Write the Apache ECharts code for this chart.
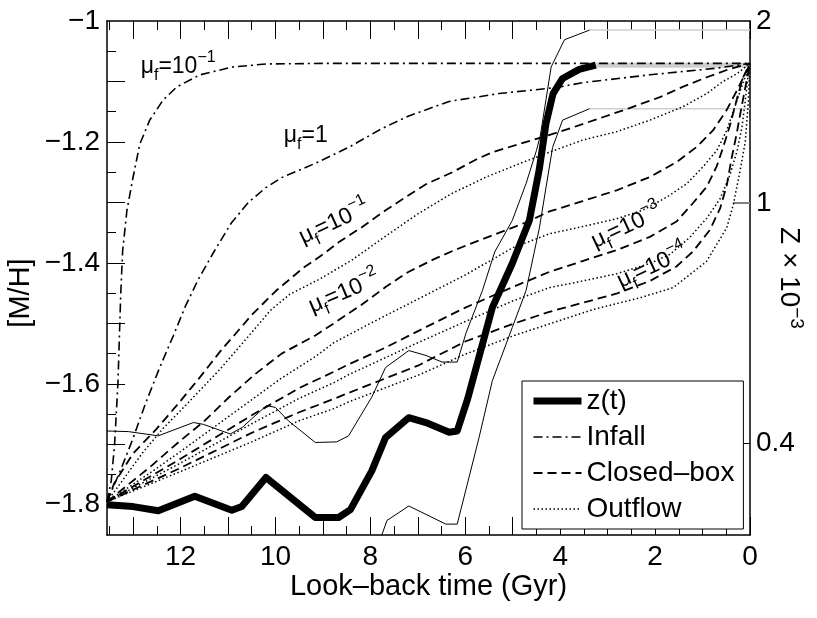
<!DOCTYPE html>
<html>
<head>
<meta charset="utf-8">
<title>Metallicity vs look-back time</title>
<script src="https://cdn.jsdelivr.net/npm/echarts@6/dist/echarts.min.js"></script>
<style>
  html, body { margin: 0; padding: 0; background: #fff; }
  #chart { width: 817px; height: 618px; }
</style>
</head>
<body>
<div id="chart"></div>
<script>
// [look-back time (Gyr), [M/H]] pairs
var zMean = [[13.55,-1.800],[13.0,-1.803],[12.47,-1.810],[11.70,-1.786],[10.92,-1.809],[10.71,-1.803],[10.2,-1.755],[9.16,-1.821],[8.67,-1.821],[8.42,-1.808],[7.97,-1.744],[7.68,-1.689],[7.19,-1.656],[6.83,-1.664],[6.34,-1.680],[6.17,-1.678],[5.95,-1.625],[5.75,-1.567],[5.43,-1.474],[5.01,-1.401],[4.65,-1.33],[4.44,-1.245],[4.3,-1.17],[4.15,-1.12],[3.95,-1.095],[3.6,-1.08],[3.25,-1.073]];
var zMeanTail = [[3.25,-1.073],[0,-1.073]];
var zUpper = [[13.55,-1.678],[13.1,-1.679],[12.47,-1.686],[11.73,-1.664],[11.52,-1.667],[10.95,-1.683],[10.7,-1.672],[10.19,-1.636],[10.0,-1.639],[9.73,-1.661],[9.16,-1.697],[8.71,-1.696],[8.46,-1.686],[7.97,-1.622],[7.68,-1.573],[7.19,-1.545],[6.83,-1.553],[6.49,-1.564],[6.17,-1.564],[5.98,-1.515],[5.64,-1.446],[5.38,-1.382],[5.01,-1.33],[4.72,-1.269],[4.5,-1.214],[4.42,-1.19],[4.19,-1.076],[3.91,-1.031],[3.38,-1.015]];
var zUpperTail = [[3.38,-1.015],[0,-1.015]];
var zLower = [[7.85,-1.87],[7.65,-1.826],[7.19,-1.802],[6.41,-1.832],[6.17,-1.832],[5.71,-1.689],[5.43,-1.595],[5.01,-1.507],[4.72,-1.446],[4.44,-1.343],[4.16,-1.209],[3.95,-1.164],[3.38,-1.145]];
var zLowerTail = [[3.38,-1.145],[0,-1.145]];

var infallMu01 = [[13.55,-1.795],[13.46,-1.76],[13.39,-1.70],[13.32,-1.60],[13.26,-1.45],[13.22,-1.38],[13.13,-1.313],[13.0,-1.258],[12.86,-1.204],[12.65,-1.164],[12.37,-1.131],[12.08,-1.109],[11.59,-1.089],[10.9,-1.076],[10.18,-1.071],[8.8,-1.07],[0,-1.07]];
var infallMu1 = [[13.55,-1.795],[13.25,-1.74],[13.0,-1.69],[12.75,-1.635],[12.45,-1.575],[12.15,-1.52],[11.9,-1.472],[11.63,-1.428],[11.3,-1.382],[10.93,-1.334],[10.57,-1.3],[10.21,-1.276],[9.87,-1.259],[9.15,-1.235],[8.46,-1.209],[7.76,-1.178],[7.19,-1.157],[6.34,-1.133],[5.29,-1.12],[4.08,-1.11],[3.53,-1.102],[2.11,-1.089],[0.7,-1.078],[0,-1.07]];

var closedMu1 = [[13.55,-1.795],[13.4,-1.765],[13.0,-1.715],[12.51,-1.675],[12.05,-1.633],[11.59,-1.589],[11.13,-1.543],[10.85,-1.518],[10.5,-1.486],[10.0,-1.447],[9.41,-1.408],[9.0,-1.386],[8.67,-1.366],[8.18,-1.341],[7.68,-1.313],[7.25,-1.291],[6.83,-1.27],[6.27,-1.25],[5.77,-1.229],[5.43,-1.217],[4.0,-1.183],[3.17,-1.161],[2.54,-1.144],[1.9,-1.126],[1.42,-1.109],[0.91,-1.093],[0.49,-1.081],[0,-1.07]];
var closedMu2 = [[13.55,-1.795],[12.62,-1.736],[12.05,-1.697],[11.49,-1.661],[10.99,-1.623],[10.43,-1.584],[9.87,-1.55],[9.16,-1.52],[8.77,-1.50],[8.2,-1.47],[7.68,-1.44],[7.2,-1.415],[6.69,-1.395],[6.2,-1.378],[5.71,-1.363],[4.72,-1.333],[4.23,-1.315],[3.53,-1.298],[2.81,-1.28],[2.11,-1.258],[1.54,-1.233],[1.12,-1.208],[0.78,-1.181],[0.49,-1.147],[0.27,-1.114],[0.06,-1.081],[0,-1.07]];
var closedMu3 = [[13.55,-1.795],[12.0,-1.724],[10.5,-1.652],[9.5,-1.607],[8.77,-1.58],[8.46,-1.568],[7.68,-1.54],[6.8,-1.505],[6.0,-1.474],[5.0,-1.44],[4.23,-1.415],[3.53,-1.397],[2.81,-1.379],[2.11,-1.357],[1.54,-1.331],[1.2,-1.301],[0.91,-1.274],[0.7,-1.24],[0.57,-1.21],[0.42,-1.172],[0.27,-1.127],[0.15,-1.094],[0,-1.07]];
var closedMu4 = [[13.55,-1.795],[12.0,-1.739],[10.5,-1.681],[9.5,-1.647],[8.77,-1.625],[8.46,-1.615],[7.0,-1.57],[6.0,-1.53],[5.0,-1.501],[4.23,-1.481],[2.82,-1.451],[2.11,-1.43],[1.55,-1.406],[1.2,-1.381],[0.85,-1.346],[0.63,-1.31],[0.49,-1.272],[0.39,-1.228],[0.28,-1.186],[0.18,-1.143],[0.07,-1.098],[0,-1.07]];

var outflowMu1 = [[13.55,-1.795],[12.79,-1.713],[12.37,-1.674],[11.85,-1.632],[11.17,-1.576],[10.5,-1.515],[10.1,-1.478],[9.7,-1.452],[9.1,-1.428],[8.4,-1.396],[7.7,-1.357],[7.0,-1.319],[6.3,-1.286],[5.56,-1.258],[4.86,-1.236],[4.23,-1.217],[3.53,-1.197],[2.81,-1.183],[2.11,-1.164],[1.42,-1.142],[0.91,-1.12],[0.57,-1.1],[0.27,-1.087],[0,-1.07]];
var outflowMu2 = [[13.55,-1.795],[12.6,-1.745],[12.0,-1.712],[11.3,-1.672],[10.6,-1.632],[9.9,-1.592],[9.16,-1.555],[8.77,-1.532],[8.0,-1.5],[7.0,-1.46],[6.0,-1.42],[5.0,-1.375],[4.23,-1.352],[3.53,-1.340],[2.81,-1.327],[2.26,-1.313],[1.75,-1.291],[1.33,-1.269],[0.99,-1.241],[0.7,-1.214],[0.49,-1.181],[0.32,-1.142],[0.15,-1.103],[0.04,-1.081],[0,-1.07]];
var outflowMu3 = [[13.55,-1.795],[12.0,-1.731],[10.5,-1.666],[9.5,-1.624],[8.77,-1.598],[8.46,-1.585],[7.0,-1.532],[6.0,-1.497],[5.0,-1.463],[4.23,-1.441],[3.53,-1.43],[2.81,-1.418],[2.11,-1.401],[1.69,-1.386],[1.27,-1.358],[0.91,-1.326],[0.63,-1.294],[0.42,-1.254],[0.27,-1.214],[0.17,-1.176],[0.1,-1.132],[0.04,-1.09],[0,-1.07]];
var outflowMu4 = [[13.55,-1.795],[12.0,-1.745],[10.5,-1.696],[9.5,-1.661],[8.77,-1.641],[8.46,-1.63],[7.0,-1.586],[6.0,-1.551],[5.0,-1.521],[4.23,-1.501],[3.3,-1.477],[2.33,-1.458],[1.62,-1.441],[0.92,-1.398],[0.49,-1.342],[0.35,-1.303],[0.21,-1.248],[0.1,-1.2],[0.04,-1.14],[0,-1.07]];

// tick values
var xMajorTicks = [0,1,2,3,4,5,6,7,8,9,10,11,12,13];
var xMinorTicks = [0.5,1.5,2.5,3.5,4.5,5.5,6.5,7.5,8.5,9.5,10.5,11.5,12.5,13.5];
var xLabels = [0,2,4,6,8,10,12];
var yMajorTicks = [-1.8,-1.7,-1.6,-1.5,-1.4,-1.3,-1.2,-1.1];
var yMinorTicks = [-1.75,-1.65,-1.55,-1.45,-1.35,-1.25,-1.15,-1.05];
var yLabels = [-1.8,-1.6,-1.4,-1.2,-1];
var zLabels = [0.4, 1, 2];   // Z x 10^-3, right axis

(function() {
  var FONT = '"Liberation Sans", Arial, Helvetica, sans-serif';
  var T_MAX = 13.55, MH_MIN = -1.85, MH_MAX = -1;
  var GRAY = '#cfcfcf';

  // Z = Zsun * 10^[M/H], Zsun = 0.02  ->  Z x 10^-3 = 20 * 10^[M/H]
  function zToMH(z) { return Math.log10(z / 20); }
  function mhToZ(m) { return 20 * Math.pow(10, m); }

  var chart = echarts.init(document.getElementById('chart'), null, { renderer: 'canvas' });

  var dashDot = { color: '#000', width: 1.6, type: [9, 4, 2, 4] };
  var dashed = { color: '#000', width: 1.8, type: [9, 5] };
  var dotted = { color: '#000', width: 1.5, type: [1.5, 2.5] };

  function line(name, data, style, z) {
    return {
      name: name, type: 'line', data: data, symbol: 'none', showSymbol: false, silent: true,
      z: z || 2, clip: true, lineStyle: style, itemStyle: { color: '#000' },
      emphasis: { disabled: true }
    };
  }

  function mu(exp) {
    return '{m|μ}{f|f}{n|=10}{s|' + exp + '}';
  }
  var notes = [
    { text: mu('−1'), t: 12.05, m: -1.076, rot: 0 },
    { text: '{m|μ}{f|f}{n|=1}', t: 9.36, m: -1.189, rot: 0 },
    { text: mu('−1'), t: 8.76, m: -1.333, rot: 25 },
    { text: mu('−2'), t: 8.55, m: -1.449, rot: 23 },
    { text: mu('−3'), t: 2.6, m: -1.34, rot: 25 },
    { text: mu('−4'), t: 2.06, m: -1.406, rot: 25 }
  ];

  var blackLine = { color: '#000', width: 1.5 };
  function xAx(pos, ticks, len, showLine) {
    return {
      type: 'value', position: pos, min: 0, max: T_MAX, inverse: true,
      axisLine: { show: showLine, onZero: false, lineStyle: blackLine },
      axisTick: { show: true, inside: true, length: len, customValues: ticks, lineStyle: { color: '#000', width: 1 } },
      axisLabel: { show: false },
      splitLine: { show: false }
    };
  }
  function yAx(pos, ticks, len, showLine, tickColor, tickWidth) {
    return {
      type: 'value', position: pos, min: MH_MIN, max: MH_MAX,
      axisLine: { show: showLine, onZero: false, lineStyle: blackLine },
      axisTick: { show: true, inside: true, length: len, customValues: ticks, lineStyle: { color: tickColor || '#000', width: tickWidth || 1 } },
      axisLabel: { show: false },
      splitLine: { show: false }
    };
  }

  var xBottom = xAx('bottom', xMajorTicks, 18, true);
  xBottom.axisLabel = {
    show: true, customValues: xLabels, fontSize: 28, color: '#000', fontFamily: FONT, margin: 8
  };
  xBottom.name = 'Look–back time (Gyr)';
  xBottom.nameLocation = 'middle';
  xBottom.nameGap = 37;
  xBottom.nameMoveOverlap = false;
  xBottom.nameTextStyle = { fontSize: 29, color: '#000', fontFamily: FONT };

  var yLeft = yAx('left', yMajorTicks, 18, true);
  yLeft.axisLabel = {
    show: true, customValues: yLabels, fontSize: 28, color: '#000', fontFamily: FONT, margin: 7,
    formatter: function(v) { var r = Math.round(v * 10) / 10; return (r < 0 ? '−' : '') + Math.abs(r); }
  };
  yLeft.name = '[M/H]';
  yLeft.nameLocation = 'middle';
  yLeft.nameGap = 72;
  yLeft.nameMoveOverlap = false;
  yLeft.nameTextStyle = { fontSize: 29, color: '#000', fontFamily: FONT, padding: [0, 30, 0, 0] };

  var yRight = yAx('right', [zToMH(1)], 17, true, '#808080', 2);
  yRight.axisLabel = {
    show: true, customValues: zLabels.map(zToMH), fontSize: 28, color: '#000', fontFamily: FONT, margin: 6,
    formatter: function(v) { return String(Math.round(mhToZ(v) * 10) / 10); }
  };
  yRight.name = '{a|Z × 10}{s|−3}';
  yRight.nameLocation = 'middle';
  yRight.nameRotate = -90;
  yRight.nameGap = 22;
  yRight.nameMoveOverlap = false;
  yRight.nameTextStyle = {
    color: '#000', fontFamily: FONT, fontSize: 28,
    rich: {
      a: { fontSize: 28, lineHeight: 34, color: '#000', fontFamily: FONT },
      s: { fontSize: 19, lineHeight: 19, verticalAlign: 'top', color: '#000', fontFamily: FONT }
    }
  };

  chart.setOption({
    animation: false,
    backgroundColor: '#fff',
    textStyle: { fontFamily: FONT },
    grid: { left: 107, right: 67, top: 21, bottom: 83, outerBoundsMode: 'none', containLabel: false },
    xAxis: [
      xBottom,
      xAx('bottom', xMinorTicks, 9, false),
      xAx('top', xMajorTicks, 18, true),
      xAx('top', xMinorTicks, 9, false)
    ],
    yAxis: [
      yLeft,
      yAx('left', yMinorTicks, 9, false),
      yRight,
      yAx('right', [zToMH(0.4)], 6, false)
    ],
    legend: {
      orient: 'vertical', left: 522, top: 381,
      data: [
        { name: 'z(t)', lineStyle: { width: 7 } },
        { name: 'Infall', lineStyle: { width: 1.6 } },
        { name: 'Closed–box', lineStyle: { width: 1.8 } },
        { name: 'Outflow', lineStyle: { width: 1.5 } }
      ],
      itemWidth: 48, itemHeight: 12, itemGap: 6,
      itemStyle: { opacity: 0 },
      padding: [5, 9, 5, 8],
      borderColor: '#000', borderWidth: 1, borderRadius: 0,
      backgroundColor: '#fff',
      selectedMode: false,
      textStyle: { fontSize: 28, color: '#000', fontFamily: FONT, lineHeight: 30 }
    },
    series: [
      line('', zMeanTail, { color: GRAY, width: 5 }, 1),
      line('', zUpperTail, { color: GRAY, width: 1.5 }, 1),
      line('', zLowerTail, { color: GRAY, width: 1.5 }, 1),
      line('Infall', infallMu01, dashDot),
      line('Infall', infallMu1, dashDot),
      line('Closed–box', closedMu1, dashed),
      line('Closed–box', closedMu2, dashed),
      line('Closed–box', closedMu3, dashed),
      line('Closed–box', closedMu4, dashed),
      line('Outflow', outflowMu1, dotted),
      line('Outflow', outflowMu2, dotted),
      line('Outflow', outflowMu3, dotted),
      line('Outflow', outflowMu4, dotted),
      line('', zUpper, { color: '#000', width: 1 }, 3),
      line('', zLower, { color: '#000', width: 1 }, 3),
      line('z(t)', zMean, { color: '#000', width: 7, join: 'round' }, 4),
      {
        type: 'scatter', silent: true, z: 6,
        symbol: 'circle', symbolSize: 0, itemStyle: { color: '#000', opacity: 1 },
        data: notes.map(function(n) {
          return { value: [n.t, n.m], label: { formatter: n.text, rotate: n.rot } };
        }),
        label: {
          show: true, position: 'inside', color: '#000', opacity: 1, fontFamily: FONT,
          rich: {
            m: { fontSize: 23, lineHeight: 34, fontFamily: FONT, color: '#000' },
            f: { fontSize: 16, lineHeight: 15, verticalAlign: 'bottom', fontFamily: FONT, color: '#000' },
            n: { fontSize: 23, lineHeight: 34, fontFamily: FONT, color: '#000' },
            s: { fontSize: 16, lineHeight: 15, verticalAlign: 'top', fontFamily: FONT, color: '#000' }
          }
        }
      }
    ]
  });
  window.addEventListener('resize', function() { chart.resize(); });
})();
</script>
</body>
</html>
